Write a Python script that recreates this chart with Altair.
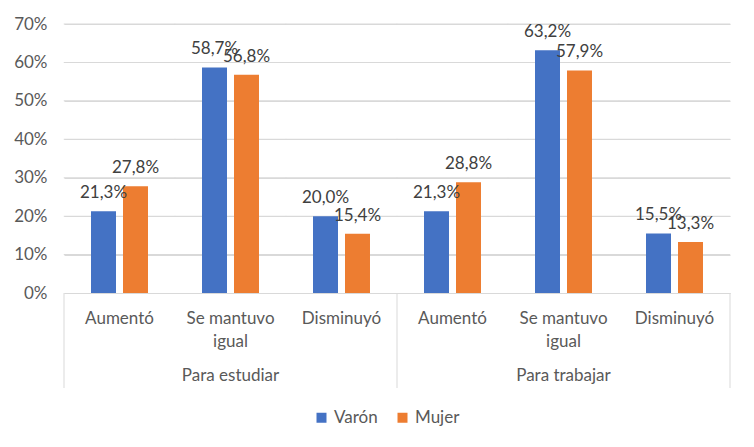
import textwrap
import altair as alt
import pandas as pd

groups = ["Para estudiar", "Para trabajar"]
categories = ["Aumentó", "Se mantuvo igual", "Disminuyó"]
series = ["Varón", "Mujer"]
colors = ["#4472C4", "#ED7D31"]

varon_estudiar = [21.3, 58.7, 20.0]
mujer_estudiar = [27.8, 56.8, 15.4]
varon_trabajar = [21.3, 63.2, 15.5]
mujer_trabajar = [28.8, 57.9, 13.3]

y_ticks = [0, 10, 20, 30, 40, 50, 60, 70]

values = {
    ("Para estudiar", "Varón"): varon_estudiar,
    ("Para estudiar", "Mujer"): mujer_estudiar,
    ("Para trabajar", "Varón"): varon_trabajar,
    ("Para trabajar", "Mujer"): mujer_trabajar,
}


def make_key(g, c):
    return g + "|" + "~".join(textwrap.wrap(c, 11))


keys = [make_key(g, c) for g in groups for c in categories]

rows = []
for g in groups:
    for s in series:
        for c, v in zip(categories, values[(g, s)]):
            rows.append({
                "key": make_key(g, c),
                "grupo": g,
                "categoria": c,
                "serie": s,
                "valor": v,
                "etiqueta": f"{v:.1f}%".replace(".", ","),
            })
df = pd.DataFrame(rows)

group_df = pd.DataFrame({
    "key": [make_key(g, categories[len(categories) // 2]) for g in groups],
    "grupo": groups,
})
start_df = pd.DataFrame({"key": [make_key(g, categories[0]) for g in groups]})
end_df = pd.DataFrame({"key": [make_key(groups[-1], categories[-1])]})
grid_df = pd.DataFrame(
    [{"key": k, "nivel": float(t)} for k in keys for t in y_ticks if t > 0]
)

W, H = 666, 269
BAND = W / len(keys)
FONT = "Lato"
GRAY = "#D9D9D9"

x_scale = alt.Scale(domain=keys, paddingInner=0, paddingOuter=0)
x_axis = alt.Axis(
    title=None,
    labelExpr="split(split(datum.value, '|')[1], '~')",
    labelFont=FONT,
    labelFontSize=17,
    labelColor="#595959",
    labelLineHeight=23,
    labelPadding=17,
    labelAngle=0,
    labelOverlap=False,
    ticks=False,
    domainColor=GRAY,
    domainWidth=1,
    grid=False,
)
y_scale = alt.Scale(domain=[0, 70], nice=False, zero=True)
y_axis = alt.Axis(
    title=None,
    values=y_ticks,
    labelExpr="datum.value + '%'",
    labelFont=FONT,
    labelFontSize=17,
    labelColor="#595959",
    labelPadding=17,
    labelOverlap=False,
    ticks=False,
    domain=False,
    grid=True,
    gridColor=GRAY,
    gridWidth=1,
)
xoff_scale = alt.Scale(domain=series, paddingInner=0.219, paddingOuter=0.844)

X = alt.X("key:N", scale=x_scale, axis=x_axis, sort=keys)
Y = alt.Y("valor:Q", scale=y_scale, axis=y_axis)

gridlines = alt.Chart(grid_df).mark_tick(
    color=GRAY, thickness=1, size=BAND + 0.5, opacity=1, orient="horizontal"
).encode(
    x=X,
    y=alt.Y("nivel:Q", scale=y_scale, axis=y_axis),
)

bars = alt.Chart(df).mark_bar().encode(
    x=X,
    xOffset=alt.XOffset("serie:N", scale=xoff_scale, sort=series),
    y=Y,
    color=alt.Color(
        "serie:N",
        scale=alt.Scale(domain=series, range=colors),
        sort=series,
        legend=alt.Legend(
            title=None,
            orient="none",
            direction="horizontal",
            legendX=249,
            legendY=385,
            symbolType="square",
            symbolSize=100,
            symbolStrokeWidth=0,
            labelFont=FONT,
            labelFontSize=17,
            labelColor="#595959",
            labelOffset=4,
            columnPadding=16,
        ),
    ),
)

labels = alt.Chart(df).mark_text(
    font=FONT, fontSize=17, color="#404040", baseline="alphabetic", dy=-13
).encode(
    x=X,
    xOffset=alt.XOffset("serie:N", scale=xoff_scale, sort=series),
    y=Y,
    text="etiqueta:N",
)

group_labels = alt.Chart(group_df).mark_text(
    font=FONT, fontSize=17, color="#595959", baseline="middle"
).encode(
    x=X,
    y=alt.value(H + 83),
    text="grupo:N",
)

start_rules = alt.Chart(start_df).mark_rule(color=GRAY, strokeWidth=1).encode(
    x=alt.X("key:N", scale=x_scale, axis=x_axis, sort=keys, bandPosition=0),
    y=alt.value(H),
    y2=alt.value(H + 95),
)
end_rules = alt.Chart(end_df).mark_rule(color=GRAY, strokeWidth=1).encode(
    x=alt.X("key:N", scale=x_scale, axis=x_axis, sort=keys, bandPosition=1),
    y=alt.value(H),
    y2=alt.value(H + 95),
)

chart = alt.layer(gridlines, bars, labels, start_rules, end_rules, group_labels).properties(
    width=W,
    height=H,
    autosize=alt.AutoSizeParams(type="none"),
    padding={"left": 56, "top": 16, "right": 16, "bottom": 146},
).configure_view(stroke=None)

chart.save("out.html", embed_options={"renderer": "svg", "actions": False})
